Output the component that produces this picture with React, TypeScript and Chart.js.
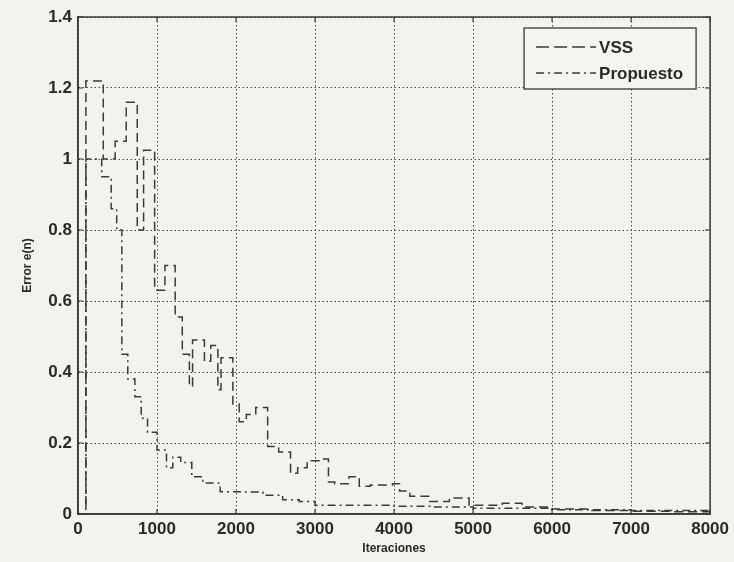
import { useEffect, useRef } from 'react';
import { Chart, registerables } from 'chart.js';

Chart.register(...registerables);

const seriesLabels = ['VSS', 'Propuesto'];

const vssX = [0, 100, 320, 470, 610, 750, 830, 970, 1100, 1230, 1320, 1410, 1450, 1600, 1680, 1770, 1810, 1960, 2040, 2130, 2250, 2400, 2540, 2690, 2780, 2900, 3060, 3170, 3250, 3430, 3560, 3700, 3820, 3980, 4070, 4200, 4450, 4700, 4950, 5370, 5620, 6000, 6500, 7000, 7500, 8000];
const vssY = [0, 1.22, 1.0, 1.05, 1.16, 0.8, 1.025, 0.63, 0.7, 0.555, 0.45, 0.36, 0.49, 0.43, 0.475, 0.35, 0.44, 0.31, 0.26, 0.28, 0.3, 0.19, 0.175, 0.115, 0.13, 0.15, 0.155, 0.09, 0.085, 0.105, 0.078, 0.082, 0.082, 0.085, 0.065, 0.05, 0.035, 0.045, 0.025, 0.03, 0.02, 0.014, 0.01, 0.008, 0.006, 0.005];

const propX = [0, 100, 300, 420, 490, 555, 630, 720, 800, 880, 1000, 1120, 1200, 1300, 1440, 1580, 1800, 2100, 2340, 2590, 2800, 3000, 4000, 4500, 5000, 6000, 7000, 8000];
const propY = [0, 1.0, 0.95, 0.86, 0.8, 0.45, 0.38, 0.33, 0.27, 0.23, 0.18, 0.13, 0.16, 0.145, 0.105, 0.087, 0.063, 0.062, 0.053, 0.04, 0.035, 0.025, 0.022, 0.02, 0.016, 0.012, 0.01, 0.01];

const xTickLabels = ['0', '1000', '2000', '3000', '4000', '5000', '6000', '7000', '8000'];
const yTickLabels = ['0', '0.2', '0.4', '0.6', '0.8', '1', '1.2', '1.4'];

const INK = '#3a3a3a';
const TEXT = '#2a2a2a';
const FONT = "'Liberation Sans', Arial, Helvetica, sans-serif";

const bgPlugin = {
  id: 'bg',
  beforeDraw(chart: any) {
    const { ctx, width, height } = chart;
    ctx.save();
    ctx.fillStyle = '#f2f2f0';
    ctx.fillRect(0, 0, width, height);
    ctx.restore();
  },
};

const framePlugin = {
  id: 'frame',
  afterDatasetsDraw(chart: any) {
    const { ctx, chartArea } = chart;
    const { left, right, top, bottom } = chartArea;
    const xs = chart.scales.x;
    const ys = chart.scales.y;
    const tl = 5;
    ctx.save();
    ctx.strokeStyle = INK;
    ctx.lineWidth = 1.5;
    ctx.setLineDash([]);
    ctx.strokeRect(left, top, right - left, bottom - top);
    ctx.lineWidth = 1.2;
    ctx.beginPath();
    xs.ticks.forEach((t: any) => {
      const px = xs.getPixelForValue(t.value);
      ctx.moveTo(px, bottom);
      ctx.lineTo(px, bottom - tl);
      ctx.moveTo(px, top);
      ctx.lineTo(px, top + tl);
    });
    ys.ticks.forEach((t: any) => {
      const py = ys.getPixelForValue(t.value);
      ctx.moveTo(left, py);
      ctx.lineTo(left + tl, py);
      ctx.moveTo(right, py);
      ctx.lineTo(right - tl, py);
    });
    ctx.stroke();
    ctx.restore();
  },
};

const legendDash = [[13, 5], [8, 4, 2, 4]];

const legendPlugin = {
  id: 'customLegend',
  afterDraw(chart: any) {
    const { ctx, chartArea } = chart;
    const w = 172;
    const h = 61;
    const x0 = chartArea.right - 14 - w;
    const y0 = chartArea.top + 11;
    ctx.save();
    ctx.fillStyle = '#f4f4f2';
    ctx.fillRect(x0, y0, w, h);
    ctx.strokeStyle = INK;
    ctx.lineWidth = 1.3;
    ctx.setLineDash([]);
    ctx.strokeRect(x0, y0, w, h);
    chart.data.datasets.forEach((ds: any, i: number) => {
      const yy = y0 + 19 + i * 26;
      ctx.strokeStyle = ds.borderColor;
      ctx.lineWidth = 1.5;
      ctx.setLineDash(legendDash[i]);
      ctx.beginPath();
      ctx.moveTo(x0 + 12, yy);
      ctx.lineTo(x0 + 72, yy);
      ctx.stroke();
      ctx.setLineDash([]);
      ctx.fillStyle = TEXT;
      ctx.font = `bold 17px ${FONT}`;
      ctx.textBaseline = 'middle';
      ctx.textAlign = 'left';
      ctx.fillText(ds.label, x0 + 75, yy + 1);
    });
    ctx.restore();
  },
};

export default function App() {
  const ref = useRef<HTMLCanvasElement | null>(null);

  useEffect(() => {
    if (!ref.current) return;
    const chart = new Chart(ref.current, {
      type: 'line',
      data: {
        datasets: [
          {
            label: seriesLabels[0],
            data: vssX.map((x, i) => ({ x, y: vssY[i] })),
            borderColor: INK,
            borderWidth: 1.5,
            borderDash: [9, 5],
            stepped: 'before',
            pointRadius: 0,
            fill: false,
          },
          {
            label: seriesLabels[1],
            data: propX.map((x, i) => ({ x, y: propY[i] })),
            borderColor: INK,
            borderWidth: 1.5,
            borderDash: [8, 4, 2, 4],
            stepped: 'before',
            pointRadius: 0,
            fill: false,
          },
        ],
      },
      options: {
        animation: false,
        responsive: false,
        devicePixelRatio: 1,
        layout: { padding: { top: 17, right: 23, left: 0, bottom: 0 } },
        plugins: {
          legend: { display: false },
          tooltip: { enabled: false },
        },
        scales: {
          x: {
            type: 'linear',
            min: 0,
            max: 8000,
            afterFit(scale: any) {
              scale.height = 48;
            },
            ticks: {
              stepSize: 1000,
              autoSkip: false,
              maxRotation: 0,
              padding: 5,
              color: TEXT,
              font: { family: FONT, size: 17, weight: 'bold' },
              callback: (_v: any, i: number) => xTickLabels[i],
            },
            grid: { color: '#4a4a4a', lineWidth: 1, drawTicks: false },
            border: { display: true, color: INK, width: 1.5, dash: [1.5, 2.5] },
            title: {
              display: true,
              text: 'Iteraciones',
              color: TEXT,
              font: { family: FONT, size: 12, weight: 'bold' },
              padding: { top: 0, bottom: 6 },
            },
          },
          y: {
            type: 'linear',
            min: 0,
            max: 1.4,
            afterFit(scale: any) {
              scale.width = 78;
            },
            ticks: {
              stepSize: 0.2,
              padding: 6,
              color: TEXT,
              font: { family: FONT, size: 17, weight: 'bold' },
              callback: (_v: any, i: number) => yTickLabels[i],
            },
            grid: { color: '#4a4a4a', lineWidth: 1, drawTicks: false },
            border: { display: true, color: INK, width: 1.5, dash: [1.5, 2.5] },
            title: {
              display: true,
              text: 'Error e(n)',
              color: TEXT,
              font: { family: FONT, size: 12, weight: 'bold' },
              padding: { top: 20, bottom: 0 },
            },
          },
        },
      },
      plugins: [bgPlugin, framePlugin, legendPlugin],
    });
    return () => chart.destroy();
  }, []);

  return (
    <canvas
      ref={ref}
      width={734}
      height={562}
      style={{ position: 'fixed', left: 0, top: 0, width: '734px', height: '562px', display: 'block' }}
    />
  );
}
